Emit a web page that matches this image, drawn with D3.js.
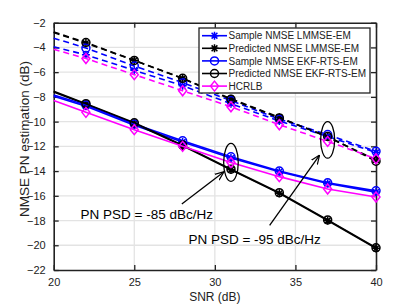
<!DOCTYPE html>
<meta charset="utf-8">
<html>
<script src="https://d3js.org/d3.v7.min.js"></script>
<style>
    body { margin: 0; background: #fff; }
    svg text { font-family: "Liberation Sans", Arial, sans-serif; }
</style>
<body>
<div id="chart"></div>
<script>
// SNR points (markers drawn from index 1)
var snr = [20, 22, 25, 28, 31, 34, 37, 40];
var xTicks = [20, 25, 30, 35, 40];
var yTicks = [-22, -20, -18, -16, -14, -12, -10, -8, -6, -4, -2];

// PN PSD = -95 dBc/Hz (solid)
var sampleLmmse95 = [-7.95, -8.75, -10.3, -11.65, -12.95, -14.05, -15.0, -15.7];
var predLmmse95   = [-7.6, -8.6, -10.15, -11.95, -13.9, -15.8, -18.0, -20.25];
var sampleEkf95   = [-7.85, -8.65, -10.2, -11.55, -12.85, -14.0, -14.95, -15.6];
var predEkf95     = [-7.55, -8.55, -10.1, -11.9, -13.85, -15.75, -17.95, -20.2];
var hcrlb95       = [-8.3, -9.25, -10.65, -12.0, -13.3, -14.45, -15.45, -16.1];

// PN PSD = -85 dBc/Hz (dashed)
var sampleLmmse85 = [-3.95, -4.6, -5.85, -7.1, -8.55, -9.95, -11.2, -12.5];
var predLmmse85   = [-2.8, -3.65, -5.05, -6.5, -8.15, -9.65, -11.25, -13.1];
var sampleEkf85   = [-3.25, -4.05, -5.5, -6.85, -8.3, -9.8, -11.05, -12.4];
var predEkf85     = [-2.75, -3.6, -5.05, -6.5, -8.2, -9.7, -11.2, -13.2];
var hcrlb85       = [-4.15, -4.9, -6.2, -7.5, -8.8, -10.25, -11.6, -13.0];

var legendNames = ["Sample NMSE LMMSE-EM", "Predicted NMSE LMMSE-EM",
    "Sample NMSE EKF-RTS-EM", "Predicted NMSE EKF-RTS-EM", "HCRLB"];

var series = [
    { name: legendNames[0], color: "#0000ff", marker: "star", s95: sampleLmmse95, s85: sampleLmmse85 },
    { name: legendNames[1], color: "#000000", marker: "star", s95: predLmmse95, s85: predLmmse85 },
    { name: legendNames[2], color: "#0000ff", marker: "circle", s95: sampleEkf95, s85: sampleEkf85 },
    { name: legendNames[3], color: "#000000", marker: "circle", s95: predEkf95, s85: predEkf85 },
    { name: legendNames[4], color: "#ff00ff", marker: "diamond", s95: hcrlb95, s85: hcrlb85 }
];

var W = 415, H = 304;
var margin = { top: 22.7, right: 39, bottom: 34, left: 53.7 };
var width = W - margin.left - margin.right,
    height = H - margin.top - margin.bottom;

var svg = d3.select("#chart").append("svg")
    .attr("width", W).attr("height", H)
    .style("background", "#fff");

var g = svg.append("g")
    .attr("transform", "translate(" + margin.left + "," + margin.top + ")");

var x = d3.scaleLinear().domain([20, 40]).range([0, width]);
var y = d3.scaleLinear().domain([-22, -2]).range([height, 0]);

// grid
g.append("g").selectAll("line").data(xTicks.slice(1, -1)).enter().append("line")
    .attr("x1", d => x(d)).attr("x2", d => x(d))
    .attr("y1", 0).attr("y2", height)
    .attr("stroke", "#e3e3e3").attr("stroke-width", 1.3);
g.append("g").selectAll("line").data(yTicks.slice(1, -1)).enter().append("line")
    .attr("y1", d => y(d)).attr("y2", d => y(d))
    .attr("x1", 0).attr("x2", width)
    .attr("stroke", "#e3e3e3").attr("stroke-width", 1.3);

// axes
var xAxis = g.append("g")
    .attr("transform", "translate(0," + height + ")")
    .call(d3.axisBottom(x).tickValues(xTicks).tickSizeInner(-5).tickSizeOuter(0).tickPadding(8));
var yAxis = g.append("g")
    .call(d3.axisLeft(y).tickValues(yTicks).tickSizeInner(-5).tickSizeOuter(0).tickPadding(8));
var xTop = g.append("g")
    .call(d3.axisTop(x).tickValues(xTicks).tickSizeInner(-5).tickSizeOuter(0).tickFormat(""));
var yRight = g.append("g")
    .attr("transform", "translate(" + width + ",0)")
    .call(d3.axisRight(y).tickValues(yTicks).tickSizeInner(-5).tickSizeOuter(0).tickFormat(""));

[xAxis, yAxis, xTop, yRight].forEach(function (a) {
    a.selectAll("path").attr("stroke", "#222").attr("stroke-width", 1.6);
    a.selectAll("line").attr("stroke", "#222").attr("stroke-width", 1.3);
    a.selectAll("text").attr("fill", "#222").style("font-size", "11px");
});

// labels
svg.append("text")
    .attr("x", margin.left + width / 2).attr("y", 300.5)
    .attr("text-anchor", "middle").style("font-size", "12px").attr("fill", "#222")
    .text("SNR (dB)");
svg.append("text")
    .attr("transform", "translate(29,139) rotate(-90)")
    .attr("text-anchor", "middle").style("font-size", "13.5px").attr("fill", "#222")
    .text("NMSE PN estimation (dB)");

// marker drawing
function drawMarker(sel, type, color, cx, cy) {
    if (type === "circle") {
        sel.append("circle").attr("cx", cx).attr("cy", cy).attr("r", 4)
            .attr("fill", "none").attr("stroke", color).attr("stroke-width", 1.5);
    } else if (type === "diamond") {
        sel.append("path")
            .attr("d", "M" + cx + "," + (cy - 5) + "L" + (cx + 4) + "," + cy + "L" + cx + "," + (cy + 5) + "L" + (cx - 4) + "," + cy + "Z")
            .attr("fill", "none").attr("stroke", color).attr("stroke-width", 1.5);
    } else {
        var r = 4, d = 2.9;
        sel.append("path")
            .attr("d", "M" + (cx - r) + "," + cy + "L" + (cx + r) + "," + cy +
                "M" + cx + "," + (cy - r) + "L" + cx + "," + (cy + r) +
                "M" + (cx - d) + "," + (cy - d) + "L" + (cx + d) + "," + (cy + d) +
                "M" + (cx - d) + "," + (cy + d) + "L" + (cx + d) + "," + (cy - d))
            .attr("fill", "none").attr("stroke", color).attr("stroke-width", 1.5);
    }
}

var line = d3.line().x((d, i) => x(snr[i])).y(d => y(d));
var plot = g.append("g");

series.forEach(function (s) {
    [["s85", "6,4"], ["s95", null]].forEach(function (k) {
        var vals = s[k[0]];
        var p = plot.append("path").datum(vals)
            .attr("fill", "none").attr("stroke", s.color)
            .attr("stroke-width", 1.6).attr("d", line);
        if (k[1]) p.attr("stroke-dasharray", k[1]);
        vals.forEach(function (v, i) {
            if (i > 0) drawMarker(plot, s.marker, s.color, x(snr[i]), y(v));
        });
    });
});

// annotations: ellipses and arrows
g.append("ellipse")
    .attr("cx", x(31)).attr("cy", y(-13.3)).attr("rx", 7.3).attr("ry", 19)
    .attr("fill", "none").attr("stroke", "#000").attr("stroke-width", 1.3);
g.append("ellipse")
    .attr("cx", x(37)).attr("cy", y(-11.48)).attr("rx", 7).attr("ry", 18.3)
    .attr("fill", "none").attr("stroke", "#000").attr("stroke-width", 1.3);

svg.append("defs").append("marker")
    .attr("id", "arrow").attr("viewBox", "0 0 10 10")
    .attr("refX", 10).attr("refY", 5)
    .attr("markerWidth", 7).attr("markerHeight", 7)
    .attr("orient", "auto")
    .append("path").attr("d", "M0,1L10,5L0,9").attr("fill", "none")
    .attr("stroke", "#000").attr("stroke-width", 1.3);

function arrow(x1, y1, x2, y2) {
    g.append("line")
        .attr("x1", x(x1)).attr("y1", y(y1)).attr("x2", x(x2)).attr("y2", y(y2))
        .attr("stroke", "#000").attr("stroke-width", 1.3)
        .attr("marker-end", "url(#arrow)");
}
arrow(27.95, -16.66, 30.57, -14.05);
arrow(33.4, -18.4, 36.5, -12.7);

g.append("text").attr("x", x(21.67)).attr("y", y(-17.87))
    .style("font-size", "13.5px").attr("fill", "#000")
    .text("PN PSD = -85 dBc/Hz");
g.append("text").attr("x", x(28.36)).attr("y", y(-19.91))
    .style("font-size", "13.5px").attr("fill", "#000")
    .text("PN PSD = -95 dBc/Hz");

// legend
var lg = svg.append("g").attr("transform", "translate(199,28)");
lg.append("rect").attr("width", 171).attr("height", 65)
    .attr("fill", "#fff").attr("stroke", "#222").attr("stroke-width", 1.3);
series.forEach(function (s, i) {
    var ly = 7.7 + i * 12.6;
    lg.append("line").attr("x1", 3).attr("x2", 28).attr("y1", ly).attr("y2", ly)
        .attr("stroke", s.color).attr("stroke-width", 1.6);
    drawMarker(lg, s.marker, s.color, 15.5, ly);
    lg.append("text").attr("x", 29.5).attr("y", ly + 3.7)
        .style("font-size", "10px").attr("fill", "#222").text(s.name);
});
</script>
</body>
</html>
